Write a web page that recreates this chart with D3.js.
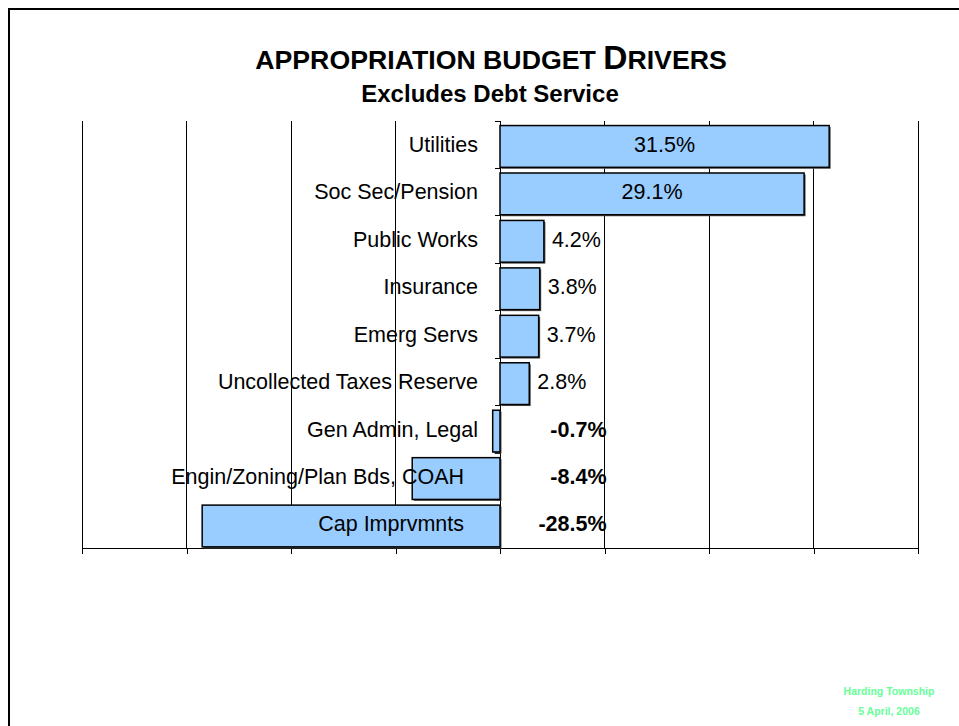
<!DOCTYPE html>
<html>
<head>
<meta charset="utf-8">
<script src="https://cdn.jsdelivr.net/npm/d3@7"></script>
<style>
  html, body { margin: 0; padding: 0; background: #fff; }
  svg { display: block; }
  text { font-family: "Liberation Sans", Arial, sans-serif; }
</style>
</head>
<body>
<svg id="chart" width="959" height="726"></svg>
<script>
// ---- data ----
const categories = [
  "Utilities",
  "Soc Sec/Pension",
  "Public Works",
  "Insurance",
  "Emerg Servs",
  "Uncollected Taxes Reserve",
  "Gen Admin, Legal",
  "Engin/Zoning/Plan Bds, COAH",
  "Cap Imprvmnts"
];
const values = [31.5, 29.1, 4.2, 3.8, 3.7, 2.8, -0.7, -8.4, -28.5];
const tickValues = [-40, -30, -20, -10, 0, 10, 20, 30, 40];
const titleParts = ["APPROPRIATION BUDGET ", "D", "RIVERS"];
const subtitle = "Excludes Debt Service";
const footerLines = ["Harding Township", "5 April, 2006"];

// ---- setup ----
const svg = d3.select("#chart");

function addText(g, x, y, str, opts) {
  return g.append("text")
    .attr("x", x).attr("y", y)
    .attr("text-anchor", opts.anchor || "start")
    .attr("font-size", opts.size || 21.5)
    .attr("font-weight", opts.weight || "normal")
    .attr("fill", opts.fill || "#000")
    .text(str);
}

// slide border (left and top)
svg.append("path")
  .attr("d", "M9,726 L9,9 L959,9")
  .attr("fill", "none")
  .attr("stroke", "#000")
  .attr("stroke-width", 2);

const plotTop = 121, plotBottom = 548;
const x = d3.scaleLinear().domain([-40, 40]).range([82, 918]);
const y = d3.scaleBand().domain(categories).range([plotTop, plotBottom])
  .paddingInner(0.12).paddingOuter(0.06).align(0.8);

// vertical gridlines
svg.append("g").selectAll("line").data(tickValues).join("line")
  .attr("x1", d => x(d)).attr("x2", d => x(d))
  .attr("y1", plotTop).attr("y2", plotBottom)
  .attr("stroke", "#000").attr("stroke-width", 1)
  .attr("shape-rendering", "crispEdges");

// bottom axis
const xAxis = d3.axisBottom(x).tickValues(tickValues).tickSize(6).tickSizeOuter(0).tickFormat("");
const axG = svg.append("g").attr("transform", `translate(0,${plotBottom})`).call(xAxis);
axG.selectAll("path,line").attr("stroke", "#000").attr("shape-rendering", "crispEdges");

// category axis at zero: ticks at band boundaries
const boundaries = d3.range(categories.length + 1).map(i => plotTop + i * (plotBottom - plotTop) / categories.length);
svg.append("g").selectAll("line").data(boundaries).join("line")
  .attr("x1", x(0) - 5).attr("x2", x(0))
  .attr("y1", d => d).attr("y2", d => d)
  .attr("stroke", "#000").attr("shape-rendering", "crispEdges");
svg.append("line")
  .attr("x1", x(0)).attr("x2", x(0)).attr("y1", plotTop).attr("y2", plotBottom)
  .attr("stroke", "#000").attr("shape-rendering", "crispEdges");

const data = categories.map((c, i) => ({ c, v: values[i] }));

// bar shadows
svg.append("g").selectAll("rect").data(data).join("rect")
  .attr("x", d => Math.min(x(0), x(d.v)) + 1.5)
  .attr("y", d => y(d.c) + 1.5)
  .attr("width", d => Math.abs(x(d.v) - x(0)))
  .attr("height", y.bandwidth())
  .attr("fill", "#555");

// bars
svg.append("g").selectAll("rect").data(data).join("rect")
  .attr("x", d => Math.min(x(0), x(d.v)))
  .attr("y", d => y(d.c))
  .attr("width", d => Math.abs(x(d.v) - x(0)))
  .attr("height", y.bandwidth())
  .attr("fill", "#99CCFF")
  .attr("stroke", "#000")
  .attr("stroke-width", 1.5);

// category labels
const labG = svg.append("g");
data.forEach(d => {
  const lx = d.v < -5 ? x(0) - 36 : x(0) - 22;
  addText(labG, lx, y(d.c) + y.bandwidth() / 2 + 5.5, d.c, { anchor: "end" });
});

// value labels
const valG = svg.append("g");
const fmt = v => v.toFixed(1) + "%";
data.forEach(d => {
  const cy = y(d.c) + y.bandwidth() / 2 + 5.5;
  if (d.v >= 20) {
    addText(valG, (x(0) + x(d.v)) / 2, cy, fmt(d.v), { anchor: "middle" });
  } else if (d.v >= 0) {
    addText(valG, x(d.v) + 8, cy, fmt(d.v), { anchor: "start" });
  } else {
    addText(valG, x(10) + 2, cy, fmt(d.v), { anchor: "end", weight: "bold" });
  }
});

// title
const tg = svg.append("g");
const title = tg.append("text")
  .attr("x", 491).attr("y", 69)
  .attr("text-anchor", "middle")
  .attr("font-weight", "bold")
  .attr("font-size", 26.7);
title.append("tspan").text(titleParts[0]);
title.append("tspan").attr("font-size", 33.5).text(titleParts[1]);
title.append("tspan").text(titleParts[2]);

addText(tg, 490, 102, subtitle, { anchor: "middle", weight: "bold", size: 24 });

// footer
const fg = svg.append("g");
footerLines.forEach((s, i) => {
  addText(fg, 889, 695 + i * 20, s, { anchor: "middle", weight: "bold", size: 10.5, fill: "#66FF99" });
});
</script>
</body>
</html>
